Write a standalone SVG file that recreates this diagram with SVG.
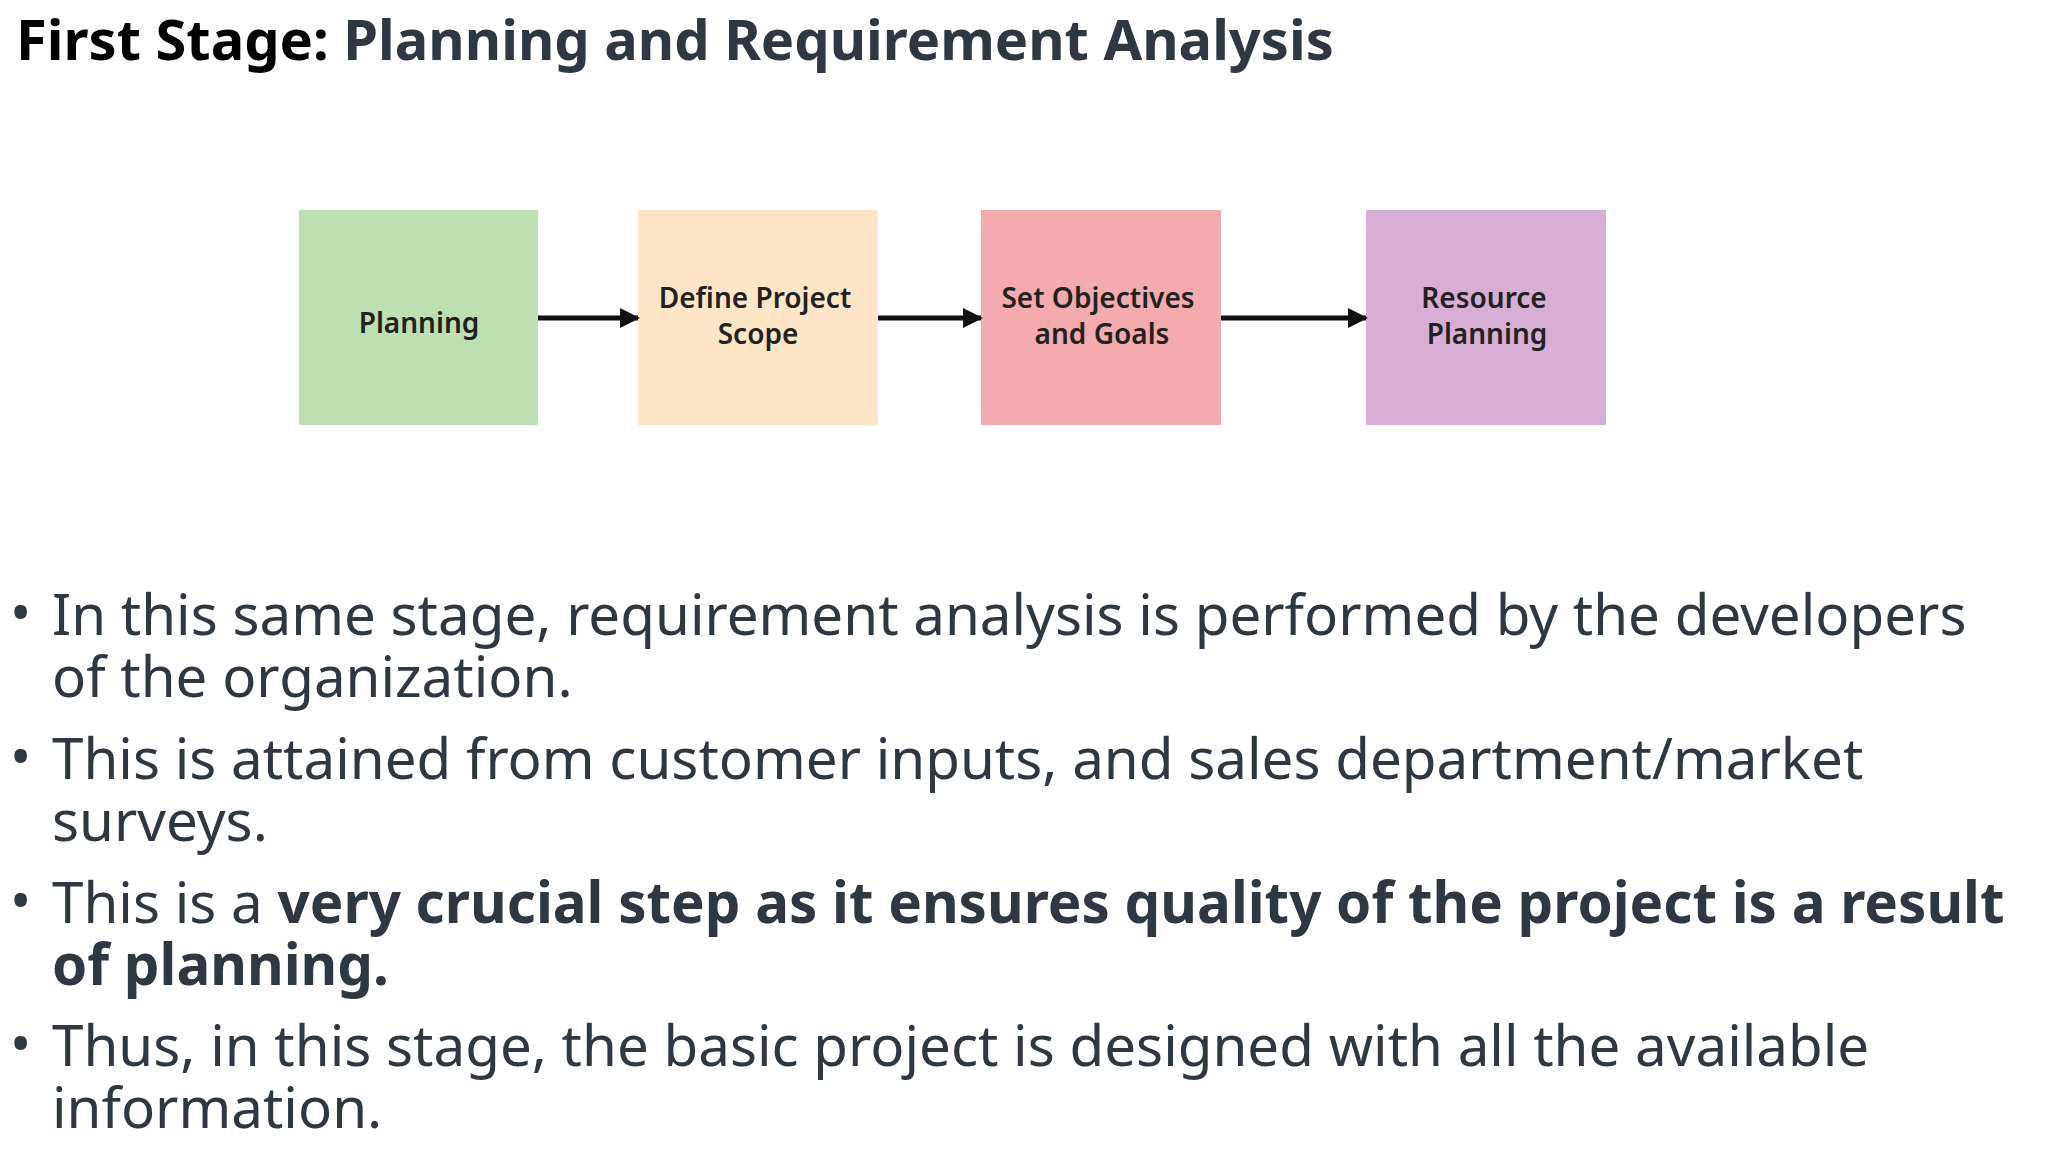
<svg xmlns="http://www.w3.org/2000/svg" width="2048" height="1152" viewBox="0 0 2048 1152">
<defs>
<marker id="ah" viewBox="0 0 10 10" refX="9" refY="5" markerWidth="4" markerHeight="4" orient="auto"><path d="M0,0 L10,5 L0,10 z" fill="#111"/></marker>
<style>
.t{font-family:"Noto Sans","Open Sans",sans-serif;fill:#2f3742}
.b{font-size:56.5px}
.n{font-family:"Noto Sans","Open Sans",sans-serif;font-size:28px;font-weight:600;fill:#222;text-anchor:middle}
.c{stroke:#111;stroke-width:5;fill:none;marker-end:url(#ah)}
</style>
</defs>
<rect width="2048" height="1152" fill="#fff"/>
<text class="t" x="16" y="60" font-size="56" font-weight="700"><tspan fill="#000">First Stage: </tspan>Planning and Requirement Analysis</text>
<g id="n1"><rect x="299" y="210" width="239" height="215" fill="#bddfb3"/><text class="n" x="419" y="333">Planning</text></g>
<g id="n2"><rect x="638" y="210" width="240" height="215" fill="#fde5c8"/><text class="n" x="755" y="308">Define Project</text><text class="n" x="758" y="344">Scope</text></g>
<g id="n3"><rect x="981" y="210" width="240" height="215" fill="#f4aaae"/><text class="n" x="1098" y="308">Set Objectives</text><text class="n" x="1102" y="344">and Goals</text></g>
<g id="n4"><rect x="1366" y="210" width="240" height="215" fill="#d7aed4"/><text class="n" x="1484" y="308">Resource</text><text class="n" x="1487" y="344">Planning</text></g>
<g id="connectors">
<line class="c" x1="538" y1="318" x2="638" y2="318"/>
<line class="c" x1="878" y1="318" x2="981" y2="318"/>
<line class="c" x1="1221" y1="318" x2="1366" y2="318"/>
</g>
<g class="t b">
<text x="10" y="633">•</text><text x="52" y="635">In this same stage, requirement analysis is performed by the developers</text>
<text x="52" y="697">of the organization.</text>
<text x="10" y="777">•</text><text x="52" y="779">This is attained from customer inputs, and sales department/market</text>
<text x="52" y="841">surveys.</text>
<text x="10" y="921">•</text><text x="52" y="923">This is a <tspan font-weight="700">very crucial step as it ensures quality of the project is a result</tspan></text>
<text x="52" y="985" font-weight="700">of planning.</text>
<text x="10" y="1064">•</text><text x="52" y="1066">Thus, in this stage, the basic project is designed with all the available</text>
<text x="52" y="1128">information.</text>
</g>
</svg>
